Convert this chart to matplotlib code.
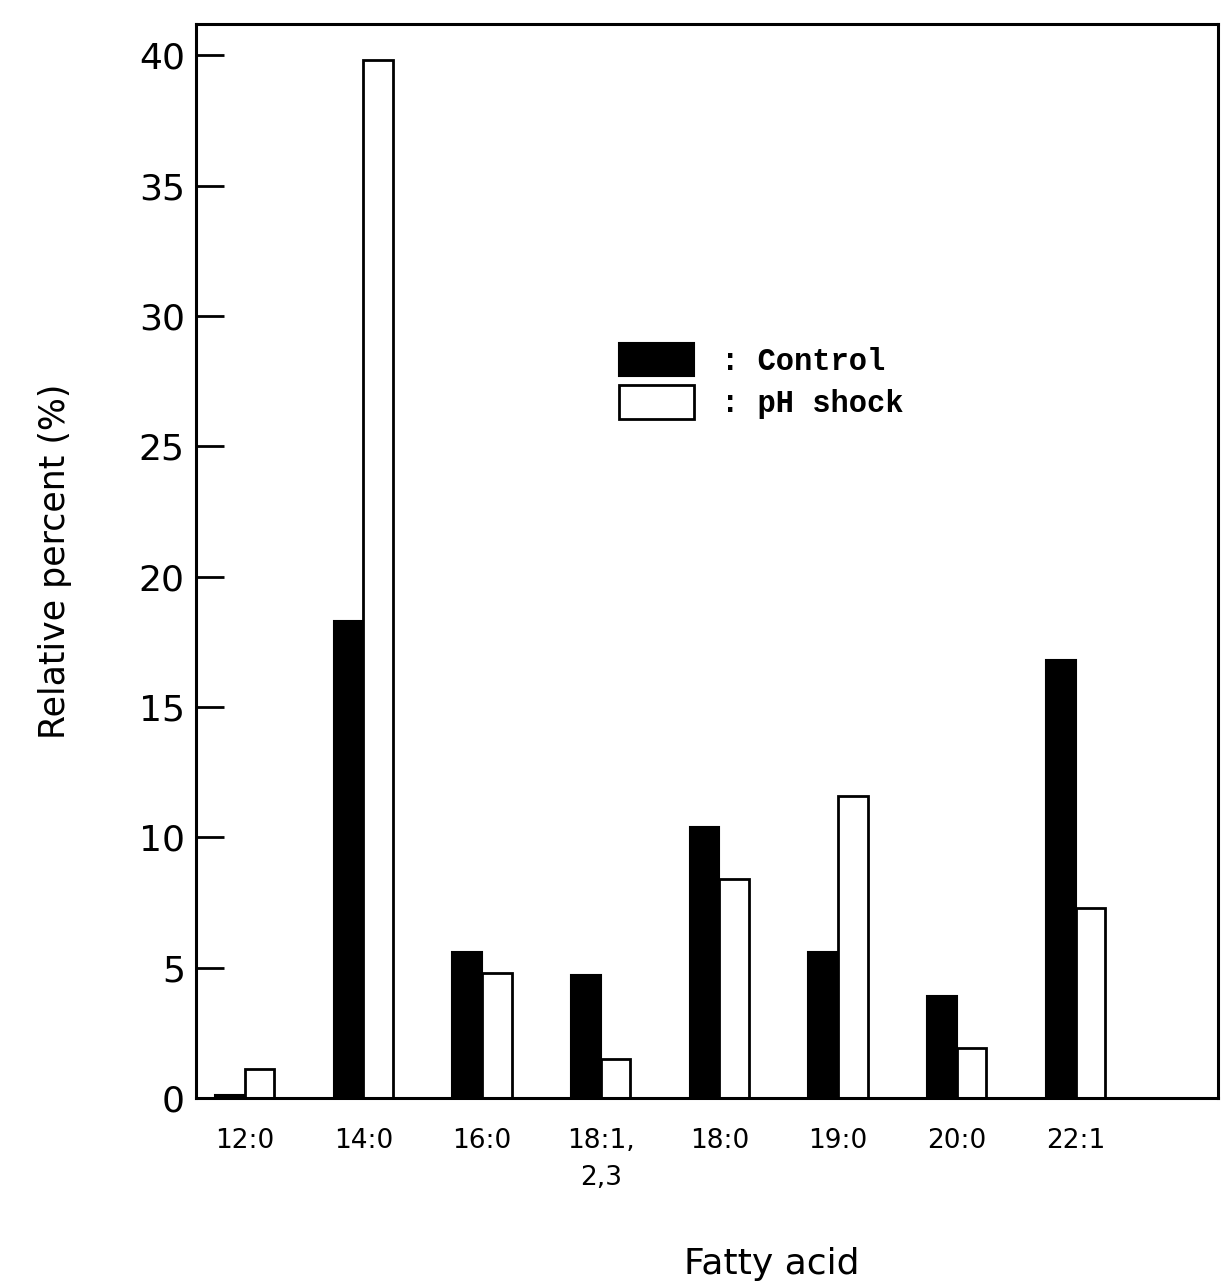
import numpy as np
import matplotlib
matplotlib.use("Agg")
import matplotlib.pyplot as plt

# values (relative percent)
acids = ['12:0', '14:0', '16:0', '18:1,\n2,3', '18:0', '19:0', '20:0', '22:1']
control = [0.1, 18.3, 5.6, 4.7, 10.4, 5.6, 3.9, 16.8]
ph_shock = [1.1, 39.8, 4.8, 1.5, 8.4, 11.6, 1.9, 7.3]
yticks = [0, 5, 10, 15, 20, 25, 30, 35, 40]

fig = plt.figure(figsize=(12.21, 12.87), dpi=100)
ax = fig.add_axes([0.1605, 0.1469, 0.837, 0.8345])

x = np.arange(len(acids))
w = 0.25
b1 = ax.bar(x - w / 2, control, w, color='black', edgecolor='black', linewidth=1.5, label=': Control')
b2 = ax.bar(x + w / 2, ph_shock, w, color='white', edgecolor='black', linewidth=2, label=': pH shock')

ax.set_xlim(-0.41, 8.2)
ax.set_ylim(0, 41.2)
ax.set_yticks(yticks)
ax.set_xticks(x)
ax.set_xticklabels(acids, fontsize=19, linespacing=1.55)
ax.tick_params(axis='x', length=0, pad=22)
ax.tick_params(axis='y', direction='in', length=20, width=2, labelsize=26, pad=8)

for s in ax.spines.values():
    s.set_linewidth(2.2)

ax.set_ylabel('Relative percent (%)', fontsize=25, labelpad=48)
fig.text(0.632, 0.005, 'Fatty acid', fontsize=26, ha='center', va='bottom')

ax.legend(handles=[b1, b2], loc='upper left', bbox_to_anchor=(0.414, 0.703),
          frameon=False, borderpad=0, borderaxespad=0,
          handlelength=2.45, handleheight=1.3, labelspacing=0.28, handletextpad=0.9,
          prop={'family': 'Liberation Mono', 'weight': 'bold', 'size': 22})

fig.savefig('out.png', dpi=100)
